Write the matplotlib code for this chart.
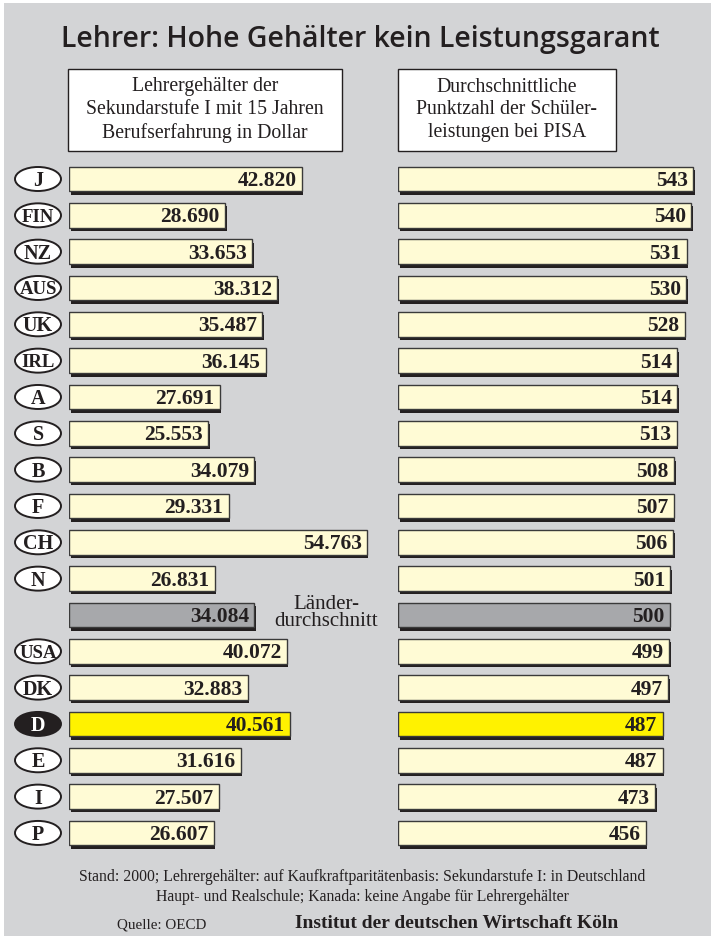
import matplotlib
matplotlib.use('Agg')
import matplotlib.pyplot as plt
from matplotlib.patches import Rectangle, Ellipse

laender = ['J', 'FIN', 'NZ', 'AUS', 'UK', 'IRL', 'A', 'S', 'B', 'F', 'CH', 'N',
           '', 'USA', 'DK', 'D', 'E', 'I', 'P']
gehalt = [42820, 28690, 33653, 38312, 35487, 36145, 27691, 25553, 34079, 29331,
          54763, 26831, 34084, 40072, 32883, 40561, 31616, 27507, 26607]
pisa = [543, 540, 531, 530, 528, 514, 514, 513, 508, 507, 506, 501, 500, 499,
        497, 487, 487, 473, 456]
gehalt_text = ['42.820', '28.690', '33.653', '38.312', '35.487', '36.145', '27.691',
               '25.553', '34.079', '29.331', '54.763', '26.831', '34.084', '40.072',
               '32.883', '40.561', '31.616', '27.507', '26.607']

W, H = 711, 937
SERIF = 'Liberation Serif'
hell = '#fffbd5'
grau = '#a7a8ab'
gelb = '#fff200'
dunkel = '#231f20'

def farbe(name):
    if name == '':
        return grau
    if name == 'D':
        return gelb
    return hell

fig = plt.figure(figsize=(W / 100, H / 100), dpi=100)
fig.patch.set_facecolor('white')

# Hintergrund-Achse in Pixeln
bg = fig.add_axes([0, 0, 1, 1])
bg.set_xlim(0, W)
bg.set_ylim(H, 0)
bg.axis('off')
bg.add_patch(Rectangle((4, 4), W, H, facecolor='#d3d4d6', edgecolor='none'))

bg.text(360, 40, 'Lehrer: Hohe Gehälter kein Leistungsgarant', ha='center', va='center',
        fontsize=20.5, fontweight='semibold', family='Open Sans', color=dunkel)

# Kopfkästen
bg.add_patch(Rectangle((68, 70), 274, 82, facecolor='white', edgecolor=dunkel, lw=1))
bg.add_patch(Rectangle((398, 70), 218, 82, facecolor='white', edgecolor=dunkel, lw=1))
bg.text(205, 110, 'Lehrergehälter der\nSekundarstufe I mit 15 Jahren\nBerufserfahrung in Dollar',
        ha='center', va='center', fontsize=14.2, family=SERIF, color=dunkel, linespacing=1.28)
bg.text(507, 110, 'Durchschnittliche\nPunktzahl der Schüler-\nleistungen bei PISA',
        ha='center', va='center', fontsize=14.2, family=SERIF, color=dunkel, linespacing=1.28)

# Zeilenlage
y0, dy = 180, 36.33
ylim = ((H - y0) / dy, -y0 / dy)
bh = 0.68
sh = 3.5 / dy

# Länderkennzeichen
for i, name in enumerate(laender):
    if name == '':
        continue
    yc = y0 + dy * i
    fc = dunkel if name == 'D' else 'white'
    tc = 'white' if name == 'D' else dunkel
    bg.add_patch(Ellipse((38, yc), 46, 24, facecolor=fc, edgecolor=dunkel, lw=1.4))
    fs = 14.5 if len(name) < 3 else 13.5
    bg.text(38, yc + 1, name, ha='center', va='center', fontsize=fs, fontweight='bold',
            family=SERIF, color=tc)

bg.text(326, 613, 'Länder-\ndurchschnitt', ha='center', va='center', fontsize=15,
        family=SERIF, color=dunkel, linespacing=0.92)


def balken(ax, werte, texte, dx_shadow):
    ys = list(range(len(werte)))
    cols = [farbe(n) for n in laender]
    ax.barh([y + sh for y in ys], werte, height=bh, left=dx_shadow, color=dunkel,
            edgecolor='none')
    ax.barh(ys, werte, height=bh, color=cols, edgecolor='#3a3a3a', linewidth=1.0)
    for y, v, t in zip(ys, werte, texte):
        ax.text(v - dx_shadow * 3.5, y + 0.03, t, ha='right', va='center', fontsize=15.5,
                fontweight='bold', family=SERIF, color=dunkel)


# Gehälter
x_l, x_r = 69, 400
skala_l = 0.00544
axl = fig.add_axes([x_l / W, 0, (x_r - x_l) / W, 1])
axl.set_xlim(0, (x_r - x_l) / skala_l)
axl.set_ylim(*ylim)
axl.axis('off')
balken(axl, gehalt, gehalt_text, 1.5 / skala_l)

# PISA
x_l2, x_r2 = 398, 711
skala_r = 0.5435
axr = fig.add_axes([x_l2 / W, 0, (x_r2 - x_l2) / W, 1])
axr.set_xlim(0, (x_r2 - x_l2) / skala_r)
axr.set_ylim(*ylim)
axr.axis('off')
balken(axr, pisa, [str(p) for p in pisa], 1.5 / skala_r)

# Fußnote
bg.text(362, 877, 'Stand: 2000; Lehrergehälter: auf Kaufkraftparitätenbasis: Sekundarstufe I: in Deutschland',
        ha='center', va='center', fontsize=11.3, family=SERIF, color=dunkel)
bg.text(362, 897, 'Haupt- und Realschule; Kanada: keine Angabe für Lehrergehälter',
        ha='center', va='center', fontsize=11.3, family=SERIF, color=dunkel)
bg.text(162, 925, 'Quelle: OECD', ha='center', va='center', fontsize=10.8, family=SERIF,
        color=dunkel)
bg.text(457, 924, 'Institut der deutschen Wirtschaft Köln', ha='center', va='center',
        fontsize=14, fontweight='bold', family=SERIF, color=dunkel)

fig.savefig('out.png', dpi=100, facecolor=fig.get_facecolor())
